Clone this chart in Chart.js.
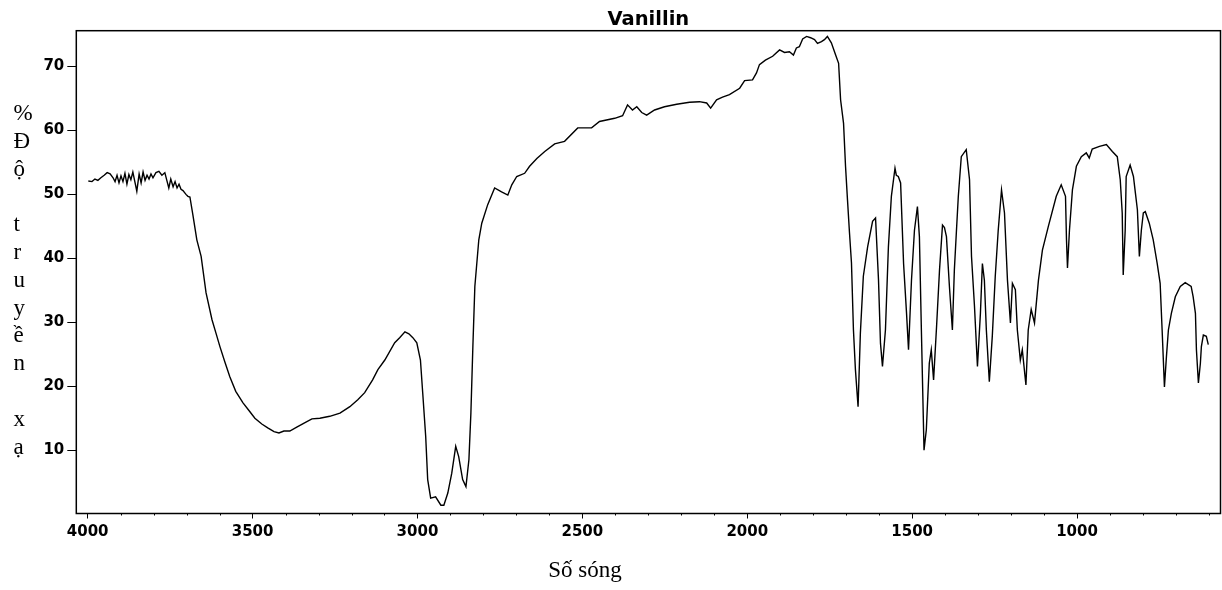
<!DOCTYPE html>
<html>
<head>
<meta charset="utf-8">
<script src="https://cdn.jsdelivr.net/npm/chart.js@4"></script>
<style>
  html, body { margin: 0; padding: 0; background: #fff; }
  #wrap { width: 1222px; height: 590px; }
</style>
</head>
<body>
<div id="wrap"><canvas id="ir" width="1222" height="590"></canvas></div>
<script>
// IR spectrum of vanillin
const wavenumbers = [
  3998, 3987, 3978, 3969, 3960, 3950, 3941, 3932, 3923, 3917, 3911, 3905, 3899, 3893, 3887, 3881,
  3875, 3869, 3863, 3857, 3851, 3844, 3838, 3832, 3826, 3820, 3814, 3808, 3802, 3793, 3784, 3775,
  3766, 3760, 3754, 3748, 3741, 3735, 3729, 3723, 3717, 3711, 3702, 3696, 3690, 3681, 3669, 3656,
  3641, 3623, 3611, 3599, 3584, 3569, 3551, 3529, 3511, 3493, 3472, 3454, 3435, 3420, 3405, 3387,
  3366, 3341, 3320, 3296, 3266, 3235, 3205, 3181, 3160, 3136, 3120, 3099, 3069, 3054, 3038, 3026,
  3014, 3002, 2991, 2984, 2975, 2969, 2960, 2945, 2929, 2920, 2908, 2896, 2884, 2875, 2863, 2853,
  2844, 2838, 2832, 2826, 2814, 2805, 2787, 2766, 2745, 2726, 2714, 2699, 2675, 2660, 2638, 2614,
  2584, 2554, 2514, 2472, 2448, 2402, 2378, 2363, 2348, 2335, 2320, 2305, 2281, 2251, 2214, 2175,
  2145, 2123, 2111, 2093, 2075, 2054, 2023, 2008, 1984, 1972, 1963, 1945, 1923, 1902, 1887, 1872,
  1860, 1851, 1842, 1832, 1820, 1808, 1796, 1787, 1775, 1766, 1757, 1745, 1732, 1723, 1717, 1708,
  1702, 1696, 1690, 1684, 1678, 1672, 1664, 1657, 1648, 1635, 1620, 1611, 1602, 1596, 1590, 1581,
  1572, 1563, 1552, 1548, 1542, 1535, 1526, 1517, 1511, 1502, 1493, 1484, 1478, 1472, 1464, 1457,
  1448, 1442, 1435, 1426, 1417, 1408, 1402, 1396, 1387, 1378, 1372, 1366, 1360, 1351, 1336, 1326,
  1320, 1311, 1302, 1293, 1287, 1281, 1275, 1266, 1257, 1248, 1239, 1229, 1220, 1211, 1202, 1196,
  1187, 1181, 1172, 1166, 1155, 1148, 1139, 1129, 1117, 1105, 1087, 1063, 1048, 1035, 1032, 1029,
  1023, 1014, 1002, 987, 972, 963, 954, 932, 911, 893, 878, 869, 863, 860, 854, 851,
  839, 829, 823, 817, 811, 805, 799, 793, 781, 769, 757, 748, 742, 735, 729, 723,
  714, 702, 687, 672, 654, 648, 641, 638, 632, 626, 623, 617, 608, 602
];
const transmittance = [
  52.1, 52.0, 52.4, 52.2, 52.6, 53.0, 53.4, 53.2, 52.6, 52.0, 53.0, 51.8, 52.9, 52.0, 53.3, 51.6,
  53.1, 52.3, 53.5, 52.0, 50.5, 53.2, 51.8, 53.5, 52.2, 53.0, 52.4, 53.2, 52.6, 53.4, 53.6, 53.0,
  53.4, 52.2, 51.0, 52.4, 51.2, 52.0, 51.0, 51.6, 50.8, 50.6, 50.0, 49.7, 49.6, 46.8, 42.9, 40.3,
  34.6, 30.4, 28.3, 26.2, 23.8, 21.5, 19.2, 17.4, 16.2, 15.0, 14.1, 13.5, 12.9, 12.7, 13.0, 13.0,
  13.6, 14.3, 14.9, 15.0, 15.3, 15.8, 16.8, 17.9, 19.0, 21.0, 22.6, 24.1, 26.8, 27.6, 28.5, 28.2,
  27.6, 26.8, 24.1, 18.9, 12.1, 5.4, 2.5, 2.7, 1.4, 1.4, 3.3, 6.4, 10.6, 9.0, 5.4, 4.3,
  8.5, 15.8, 26.2, 35.6, 42.9, 45.5, 48.4, 51.0, 50.4, 49.9, 51.5, 52.8, 53.3, 54.4, 55.6, 56.7,
  57.9, 58.3, 60.4, 60.4, 61.4, 61.9, 62.3, 64.0, 63.2, 63.7, 62.8, 62.4, 63.2, 63.7, 64.1, 64.4,
  64.5, 64.3, 63.5, 64.8, 65.2, 65.6, 66.6, 67.8, 67.9, 69.0, 70.3, 71.0, 71.6, 72.6, 72.2, 72.3,
  71.8, 72.9, 73.1, 74.3, 74.7, 74.5, 74.2, 73.6, 73.9, 74.2, 74.7, 73.7, 71.8, 70.5, 64.8, 61.1,
  54.4, 49.1, 44.0, 39.3, 28.8, 22.6, 16.8, 28.3, 37.2, 41.8, 45.8, 46.3, 36.6, 26.7, 23.1, 28.8,
  41.8, 49.7, 54.1, 53.0, 52.8, 51.8, 39.2, 31.4, 25.7, 36.6, 44.4, 48.1, 43.4, 28.8, 10.0, 13.2,
  23.6, 25.7, 21.0, 29.3, 38.2, 45.2, 44.8, 43.4, 35.6, 28.8, 38.2, 44.0, 49.7, 55.9, 57.0, 52.3,
  40.3, 32.5, 23.1, 31.4, 39.2, 36.6, 28.8, 20.7, 27.8, 37.2, 44.4, 50.7, 47.1, 36.6, 29.9, 36.1,
  35.1, 28.8, 24.1, 25.7, 20.2, 28.8, 32.0, 29.9, 36.6, 41.3, 45.0, 49.7, 51.5, 49.7, 42.9, 38.5,
  44.4, 50.7, 54.4, 55.9, 56.5, 55.7, 57.1, 57.5, 57.8, 56.7, 55.9, 52.3, 47.1, 37.4, 44.4, 52.8,
  54.6, 52.8, 50.2, 47.6, 40.3, 44.4, 47.1, 47.3, 45.5, 42.9, 39.2, 36.1, 28.8, 19.9, 24.6, 28.8,
  31.4, 34.0, 35.6, 36.2, 35.6, 34.0, 31.4, 25.7, 20.5, 23.6, 26.2, 28.0, 27.8, 26.5
];

const xTickValues = [4000, 3500, 3000, 2500, 2000, 1500, 1000];
const yTickValues = [10, 20, 30, 40, 50, 60, 70];

const chartTitle = 'Vanillin';
const xTitle = 'Số sóng';
const yTitleChars = ['%', 'Đ', 'ộ', '', 't', 'r', 'u', 'y', 'ề', 'n', '', 'x', 'ạ'];

const tickFont = { family: '"DejaVu Sans"', size: 15, weight: 'bold' };

// frame, minor ticks and the text around the plot
const decorations = {
  id: 'decorations',
  afterDraw(chart) {
    const { ctx, chartArea: a } = chart;
    const xs = chart.scales.x;
    ctx.save();
    ctx.strokeStyle = '#000';
    ctx.lineWidth = 1.5;
    ctx.strokeRect(a.left, a.top, a.right - a.left, a.bottom - a.top);

    ctx.lineWidth = 1;
    ctx.beginPath();
    for (let v = 600; v <= 4000; v += 100) {
      if (v % 500 === 0) continue;
      const px = Math.round(xs.getPixelForValue(v)) + 0.5;
      ctx.moveTo(px, a.bottom);
      ctx.lineTo(px, a.bottom + 2);
    }
    ctx.stroke();

    ctx.fillStyle = '#000';
    ctx.font = 'bold 19.5px "DejaVu Sans"';
    ctx.textAlign = 'center';
    ctx.textBaseline = 'alphabetic';
    ctx.fillText(chartTitle, (a.left + a.right) / 2, 24.5);

    ctx.font = '23px "Liberation Serif"';
    ctx.fillText(xTitle, 585, 577);

    ctx.textAlign = 'left';
    yTitleChars.forEach((c, i) => {
      if (c) ctx.fillText(c, 13.5, 120 + i * 27.8);
    });
    ctx.restore();
  }
};

new Chart(document.getElementById('ir'), {
  type: 'line',
  data: {
    datasets: [{
      data: wavenumbers.map((w, i) => ({ x: w, y: transmittance[i] })),
      borderColor: '#000',
      borderWidth: 1.4,
      pointRadius: 0,
      tension: 0,
      fill: false
    }]
  },
  options: {
    responsive: false,
    animation: false,
    layout: { padding: { left: 0, right: 1.5, top: 30.7, bottom: 0 } },
    plugins: { legend: { display: false }, tooltip: { enabled: false }, title: { display: false } },
    scales: {
      x: {
        type: 'linear',
        reverse: true,
        min: 565,
        max: 4034.5,
        border: { display: false },
        grid: { drawOnChartArea: false, tickLength: 5, color: '#000', lineWidth: 1 },
        ticks: {
          autoSkip: false,
          maxRotation: 0,
          padding: 5,
          color: '#000',
          font: tickFont,
          callback: v => String(v)
        },
        afterBuildTicks: s => { s.ticks = xTickValues.map(v => ({ value: v })); },
        afterFit: s => { s.height = 76.5; }
      },
      y: {
        min: 0.1,
        max: 75.6,
        border: { display: false },
        grid: { drawOnChartArea: false, tickLength: 9, color: '#000', lineWidth: 1 },
        ticks: {
          padding: 3,
          color: '#000',
          font: tickFont,
          callback: v => String(v)
        },
        afterBuildTicks: s => { s.ticks = yTickValues.map(v => ({ value: v })); },
        afterFit: s => { s.width = 76.3; }
      }
    }
  },
  plugins: [decorations]
});
</script>
</body>
</html>
